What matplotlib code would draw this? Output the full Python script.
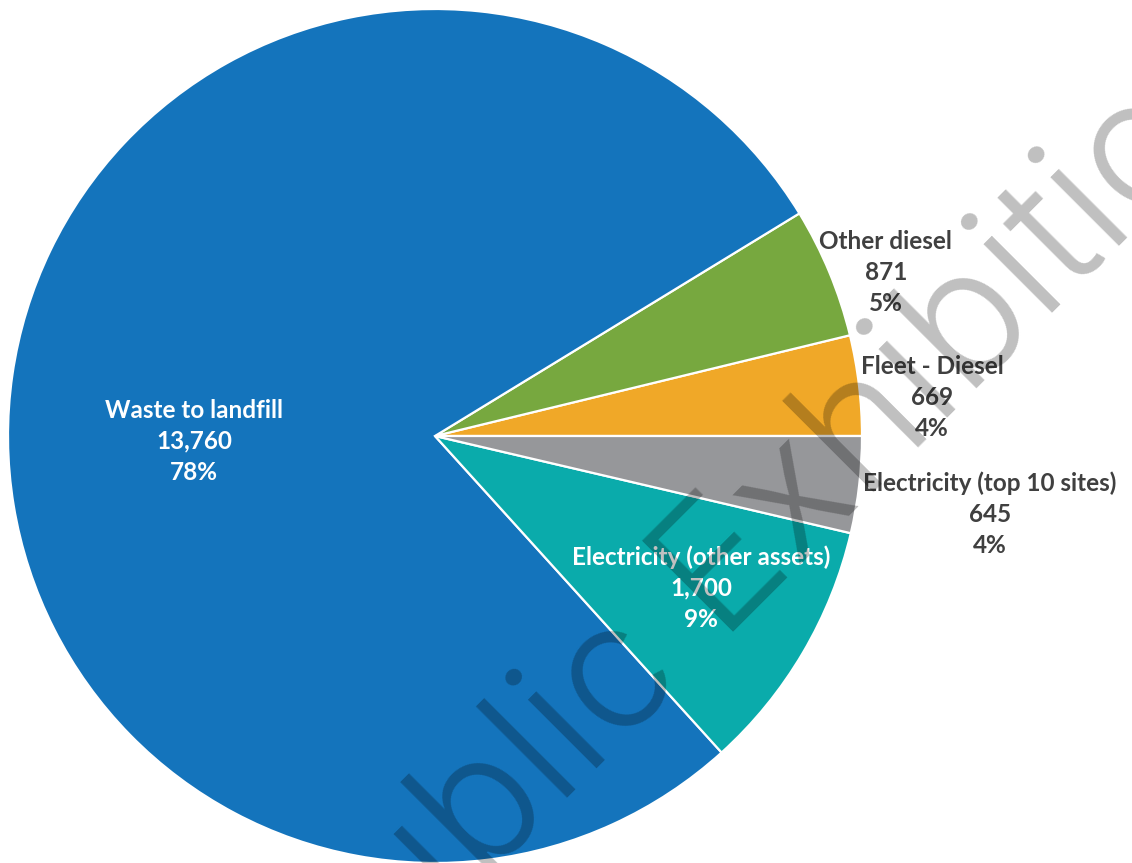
import matplotlib
matplotlib.use("Agg")
import matplotlib.pyplot as plt
from matplotlib.textpath import TextPath
from matplotlib.font_manager import FontProperties
import numpy as np

# ---- data ----
categories = ["Fleet - Diesel", "Other diesel", "Waste to landfill",
              "Electricity (other assets)", "Electricity (top 10 sites)"]
values = [669, 871, 13760, 1700, 645]
pct_labels = [4, 5, 78, 9, 4]   # percentages as printed on the chart
colors = ["#F0A828", "#77A83F", "#1474BC", "#0AABAB", "#96979A"]
label_colors = ["#404040", "#404040", "white", "white", "#404040"]

# label centres in pie units (radius = 1)
label_pos = [(1.164, 0.091), (1.056, 0.384), (-0.564, -0.012),
             (0.623, -0.356), (1.300, -0.183)]

W, H = 1132, 863
CX, CY, R = 435, 436, 427   # pie centre / radius in pixels

fig = plt.figure(figsize=(W / 100, H / 100), dpi=100)
ax = fig.add_axes([0, 0, 1, 1])

wedges, _ = ax.pie(values, colors=colors, startangle=0, counterclock=True,
                   radius=1.0, center=(0, 0),
                   wedgeprops=dict(edgecolor="white", linewidth=1.6))

ax.set_xlim(-CX / R, (W - CX) / R)
ax.set_ylim(-(H - CY) / R, CY / R)
ax.set_aspect("auto")
ax.axis("off")

for cat, v, p, (lx, ly), lc in zip(categories, values, pct_labels,
                                   label_pos, label_colors):
    ax.text(lx, ly, f"{cat}\n{v:,}\n{p}%", ha="center", va="center",
            multialignment="center", color=lc, fontsize=17.5,
            fontweight="bold", family="Lato", linespacing=1.42, zorder=5)

# ---- watermark ----
wm_text = "Public Exhibition"
fp = FontProperties(family="Inter", weight=300, size=128)


def width_px(s):
    return TextPath((0, 0), s, prop=fp).vertices[:, 0].max() * 100 / 72


w_pub = width_px("Pub")
w_t = width_px("t")
t_mid = width_px("Public Exhibi") + w_t / 2
m = (w_pub + t_mid) / 2
u_mid_ref = 187.5           # position along the baseline (px)
base_sum = 1365             # baseline: x + y = const (image px)
u0 = u_mid_ref - m
sx = (base_sum + u0 * np.sqrt(2)) / 2
sy = (base_sum - u0 * np.sqrt(2)) / 2
ax.text((sx - CX) / R, (CY - sy) / R, wm_text, rotation=45,
        rotation_mode="anchor", ha="left", va="baseline",
        fontproperties=fp, color="black", alpha=0.25, zorder=10)

fig.savefig("out.png", dpi=100)
